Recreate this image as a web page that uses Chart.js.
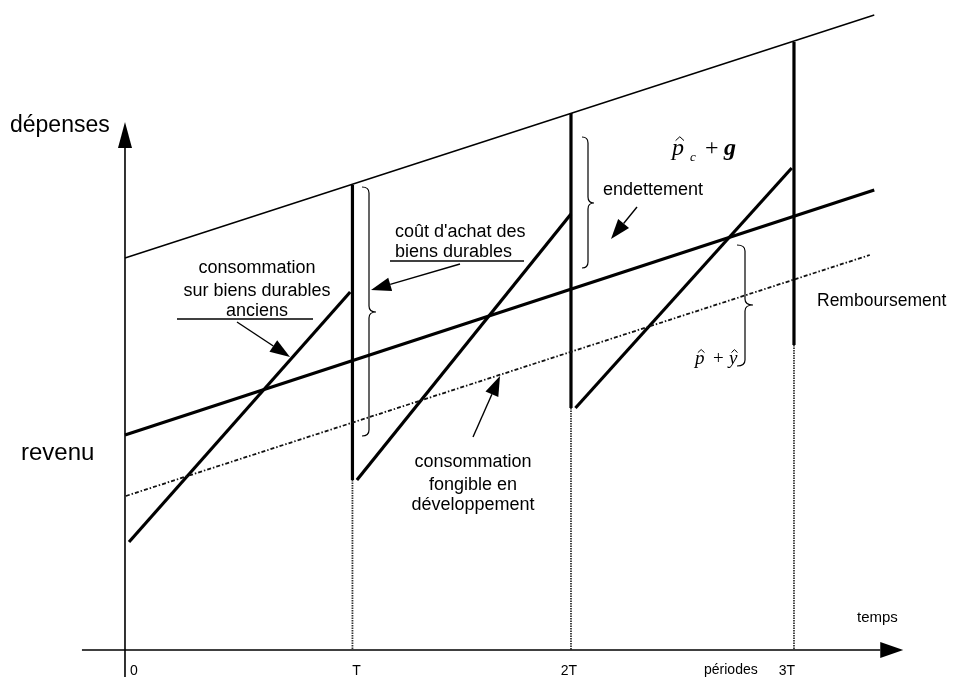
<!DOCTYPE html>
<html>
<head>
<meta charset="utf-8">
<script src="https://cdn.jsdelivr.net/npm/chart.js@4.4.0/dist/chart.umd.min.js"></script>
<style>
  html, body { margin: 0; padding: 0; background: #fff; }
  #wrap { width: 959px; height: 684px; position: relative; }
</style>
</head>
<body>
<div id="wrap"><canvas id="chart"></canvas></div>
<script>
// DATA  (x in periods T, y in expense units)
const periods      = [0, 1.02, 2.0, 3.0];
const periodLabels = ['0', 'T', '2T', '3T'];

const lineX      = [0, 3.36];
const plafond    = [78.4, 127];   // p̂c + g
const revenu     = [43, 92];
const fongibleX  = [0.004, 3.34];
const fongible   = [30.8, 79];    // p̂ + ŷ

const sawStartX  = [0.018, 1.04, 2.02];
const sawStart   = [21.6, 34, 48.4];
const sawEndX    = [1.01, 2.0, 2.99];
const sawEnd     = [71.6, 87.2, 96.4];

const achatX      = [1.02, 2.0, 3.0];
const achatTop    = [93, 107.4, 121.6];
const achatBottom = [34, 48.4, 61];

const FONT = '"Liberation Sans", Arial, sans-serif';
const SERIF = '"Liberation Serif", "Times New Roman", serif';

function seg(x1, y1, x2, y2, width, dash, color) {
  return {
    data: [{ x: x1, y: y1 }, { x: x2, y: y2 }],
    showLine: true, borderColor: color || '#000', borderWidth: width,
    borderDash: dash || [], pointRadius: 0, borderCapStyle: 'butt', fill: false
  };
}

const datasets = [];
datasets.push(seg(lineX[0], plafond[0], lineX[1], plafond[1], 1.4));
datasets.push(seg(lineX[0], revenu[0], lineX[1], revenu[1], 3.2));
datasets.push(seg(fongibleX[0], fongible[0], fongibleX[1], fongible[1], 1.8, [4, 2, 1.5, 2], '#111'));
sawStartX.forEach((x, i) => datasets.push(seg(x, sawStart[i], sawEndX[i], sawEnd[i], 3.2)));
achatX.forEach((x, i) => {
  datasets.push(seg(x, achatTop[i], x, achatBottom[i], 3.2));
  datasets.push(seg(x, achatBottom[i], x, 0, 1.8, [1.5, 1], '#333'));
});

// HELPERS
function arrow(ctx, x1, y1, x2, y2, len, half) {
  const a = Math.atan2(y2 - y1, x2 - x1);
  const bx = x2 - len * Math.cos(a), by = y2 - len * Math.sin(a);
  ctx.beginPath(); ctx.moveTo(x1, y1); ctx.lineTo(bx, by); ctx.stroke();
  ctx.beginPath();
  ctx.moveTo(x2, y2);
  ctx.lineTo(bx + half * Math.sin(a), by - half * Math.cos(a));
  ctx.lineTo(bx - half * Math.sin(a), by + half * Math.cos(a));
  ctx.closePath(); ctx.fill();
}

function brace(ctx, x, top, bottom, tipY, w) {
  const m = x + w, t = x + 2 * w, r = 6;
  ctx.beginPath();
  ctx.moveTo(x, top);
  ctx.quadraticCurveTo(m, top, m, top + r);
  ctx.lineTo(m, tipY - r);
  ctx.quadraticCurveTo(m, tipY, t, tipY);
  ctx.quadraticCurveTo(m, tipY, m, tipY + r);
  ctx.lineTo(m, bottom - r);
  ctx.quadraticCurveTo(m, bottom, x, bottom);
  ctx.stroke();
}

function hatChar(ctx, ch, x, y, size) {
  ctx.fillText(ch, x, y);
  const w = ctx.measureText(ch).width;
  ctx.beginPath();
  ctx.moveTo(x + w * 0.3, y - size * 0.6);
  ctx.lineTo(x + w * 0.65, y - size * 0.76);
  ctx.lineTo(x + w * 1.0, y - size * 0.6);
  ctx.lineWidth = 1; ctx.stroke();
}

// AXES + ANNOTATIONS
const decor = {
  id: 'decor',
  afterDatasetsDraw(chart) {
    const { ctx, scales: { x, y } } = chart;
    const X = v => x.getPixelForValue(v), Y = v => y.getPixelForValue(v);
    ctx.save();
    ctx.strokeStyle = '#000'; ctx.fillStyle = '#000';

    // axes
    ctx.lineWidth = 1.6;
    arrow(ctx, X(-0.193), Y(0), X(3.49), Y(0), 23, 8);
    arrow(ctx, X(0), Y(-5.4), X(0), Y(105.6), 26, 7);

    // axis titles
    ctx.textBaseline = 'alphabetic'; ctx.textAlign = 'left';
    ctx.font = '23px ' + FONT;
    ctx.fillText('dépenses', 10, 132);
    ctx.font = '24px ' + FONT;
    ctx.fillText('revenu', 21, 460);
    ctx.font = '15px ' + FONT;
    ctx.fillText('temps', 857, 622);

    // period labels
    ctx.font = '14px ' + FONT;
    ctx.textBaseline = 'middle';
    periods.forEach((p, i) => {
      ctx.textAlign = i === 0 ? 'left' : 'center';
      ctx.fillText(periodLabels[i], i === 0 ? X(p) + 5 : X(p) + (i === 3 ? -7 : i === 2 ? -2 : 4), 671);
    });
    ctx.textAlign = 'left';
    ctx.fillText('périodes', 704, 670);

    // text annotations
    ctx.font = '18px ' + FONT;
    ctx.textAlign = 'center';
    ctx.fillText('consommation', 257, 268);
    ctx.fillText('sur biens durables', 257, 291);
    ctx.fillText('anciens', 257, 311);
    ctx.fillText('consommation', 473, 462);
    ctx.fillText('fongible en', 473, 485);
    ctx.fillText('développement', 473, 505);
    ctx.textAlign = 'left';
    ctx.fillText("coût d'achat des", 395, 232);
    ctx.fillText('biens durables', 395, 252);
    ctx.fillText('endettement', 603, 190);
    ctx.font = '17.5px ' + FONT;
    ctx.fillText('Remboursement', 817, 301);

    // underlines
    ctx.lineWidth = 1.3;
    ctx.beginPath(); ctx.moveTo(177, 319); ctx.lineTo(313, 319); ctx.stroke();
    ctx.beginPath(); ctx.moveTo(390, 261); ctx.lineTo(524, 261); ctx.stroke();

    // arrows
    ctx.lineWidth = 1.4;
    arrow(ctx, 237, 322, 290, 357, 20, 7);
    arrow(ctx, 460, 264, 371, 290, 20, 7);
    arrow(ctx, 637, 207, 611, 239, 20, 7);
    arrow(ctx, 473, 437, 500, 376, 20, 7);

    // braces
    ctx.lineWidth = 1.2;
    brace(ctx, 362, 187, 436, 312, 7);
    brace(ctx, 582, 137, 268, 203, 6);
    brace(ctx, 737, 245, 366, 305, 8);

    // math labels
    ctx.textBaseline = 'alphabetic'; ctx.textAlign = 'left';
    ctx.font = 'italic 24px ' + SERIF;
    hatChar(ctx, 'p', 672, 155, 24);
    ctx.font = 'italic 13px ' + SERIF;
    ctx.fillText('c', 690, 161);
    ctx.font = '24px ' + SERIF;
    ctx.fillText('+', 705, 155);
    ctx.font = 'italic bold 24px ' + SERIF;
    ctx.fillText('g', 724, 155);

    ctx.font = 'italic 19px ' + SERIF;
    hatChar(ctx, 'p', 695, 364, 19);
    ctx.font = '19px ' + SERIF;
    ctx.fillText('+', 713, 364);
    ctx.font = 'italic 19px ' + SERIF;
    hatChar(ctx, 'y', 729, 364, 19);
    ctx.restore();
  }
};

new Chart(document.getElementById('chart'), {
  type: 'scatter',
  data: { datasets },
  options: {
    responsive: true, maintainAspectRatio: false, animation: false,
    layout: { padding: 0 },
    plugins: { legend: { display: false }, tooltip: { enabled: false } },
    scales: {
      x: { type: 'linear', display: false, min: -0.5605, max: 3.740 },
      y: { type: 'linear', display: false, min: -6.8, max: 130 }
    }
  },
  plugins: [decor]
});
</script>
</body>
</html>
